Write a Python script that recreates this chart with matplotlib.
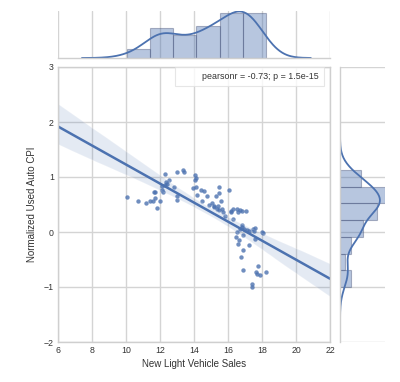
import numpy as np
import matplotlib
matplotlib.use("Agg")
import matplotlib.pyplot as plt
import seaborn as sns
from matplotlib.patches import Rectangle

# New light vehicle sales (millions, SAAR) vs normalized used auto CPI
sales = [10.06, 10.70, 11.17, 11.39, 11.56, 11.62, 11.72, 11.82, 11.68, 12.01,
         12.13, 12.20, 12.27, 12.30, 12.40, 12.50, 12.80, 12.99, 12.99, 13.00,
         13.38, 13.44, 14.04, 14.10, 14.08, 14.10, 14.20, 14.41, 14.60, 14.77,
         14.49, 15.07, 15.17, 15.27, 15.49, 15.49, 15.59, 15.35, 15.66, 15.41,
         15.72, 16.05, 16.17, 16.17, 16.27, 16.54, 16.70, 16.80, 17.03, 16.84,
         16.93, 17.09, 17.23, 17.48, 17.54, 17.58, 18.00, 18.06, 16.47, 16.66,
         16.89, 16.57, 17.25, 17.58, 16.89, 16.78, 17.75, 16.89, 17.62, 17.87,
         18.22, 17.44, 17.44,
         12.35, 12.10, 13.95, 14.90, 15.20, 15.45, 16.30, 16.60, 15.80, 16.50,
         16.70, 16.80, 17.70]
cpi = [0.63, 0.56, 0.52, 0.56, 0.56, 0.72, 0.72, 0.43, 0.62, 0.56,
       0.77, 0.73, 1.06, 0.86, 0.87, 0.94, 0.81, 0.65, 0.58, 1.09,
       1.13, 1.10, 1.03, 0.99, 0.94, 0.82, 0.68, 0.77, 0.75, 0.66,
       0.56, 0.52, 0.48, 0.65, 0.82, 0.71, 0.56, 0.42, 0.41, 0.47,
       0.37, 0.76, 0.39, 0.36, 0.24, 0.41, 0.40, 0.38, 0.38, 0.09,
       0.06, 0.03, 0.02, 0.06, 0.02, 0.08, 0.00, -0.02, -0.09, -0.14,
       -0.05, -0.21, -0.24, -0.13, -0.33, -0.45, -0.61, -0.69, -0.73, -0.78,
       -0.72, -0.95, -1.00,
       0.91, 0.84, 0.80, 0.50, 0.45, 0.40, 0.42, 0.37, 0.30, 0.00,
       0.05, 0.12, -0.76]

x_label = "New Light Vehicle Sales"
y_label = "Normalized Used Auto CPI"
stat_text = "pearsonr = -0.73; p = 1.5e-15"
x_ticks = [6, 8, 10, 12, 14, 16, 18, 20, 22]
y_ticks = [-2, -1, 0, 1, 2, 3]

x = np.array(sales)
y = np.array(cpi)

sns.set_style("whitegrid")
plt.rcParams['font.family'] = ['Liberation Sans', 'DejaVu Sans']
plt.rcParams['axes.edgecolor'] = '#cfcfcf'
plt.rcParams['grid.color'] = '#d4d4d4'
plt.rcParams['axes.linewidth'] = 1.0
plt.rcParams['grid.linewidth'] = 1.0

blue = "#4C72B0"
W, H = 400, 382
fig = plt.figure(figsize=(4, 3.82), dpi=100)

ax = fig.add_axes([58 / W, 1 - 342 / H, (330 - 58) / W, (342 - 67) / H])
axx = fig.add_axes([58 / W, 1 - 58 / H, (330 - 58) / W, (58 - 11) / H], sharex=ax)
axy = fig.add_axes([340 / W, 1 - 342 / H, (385 - 340) / W, (342 - 67) / H], sharey=ax)

ax.set_xlim(6, 22)
ax.set_ylim(-2, 3)

sns.regplot(x=x, y=y, ax=ax, truncate=False, seed=0, color=blue,
            scatter_kws=dict(s=10, alpha=0.8, linewidths=0),
            line_kws=dict(lw=1.8))
ax.set_xlim(6, 22)
ax.set_ylim(-2, 3)
ax.set_xticks(x_ticks)
ax.set_yticks(y_ticks)
ax.tick_params(labelsize=6.3, length=0, pad=3, colors='#333333')
ax.set_xlabel(x_label, fontsize=7, color='#333333', labelpad=3)
ax.set_ylabel(y_label, fontsize=7, color='#333333', labelpad=5)

handle = Rectangle((0, 0), 1, 1, fc='none', ec='none')
leg = ax.legend([handle], [stat_text], loc='upper right', fontsize=6.4,
                bbox_to_anchor=(324 / W, 1 - 67.5 / H),
                bbox_transform=fig.transFigure,
                frameon=True, fancybox=False, borderaxespad=0,
                handlelength=1.7, borderpad=0.55)
leg.get_frame().set_edgecolor('#e0e0e0')
leg.get_frame().set_linewidth(0.8)
for t in leg.get_texts():
    t.set_color('#333333')


def kde(data, grid):
    n = len(data)
    bw = data.std(ddof=1) * n ** (-1 / 5)
    z = (grid[:, None] - data[None, :]) / bw
    return np.exp(-0.5 * z ** 2).sum(axis=1) / (n * bw * np.sqrt(2 * np.pi))


# top marginal
bwx = x.std(ddof=1) * len(x) ** (-1 / 5)
gx = np.linspace(x.min() - 3 * bwx, x.max() + 3 * bwx, 200)
kx = kde(x, gx)
hx, ex, _ = axx.hist(x, bins=6, density=True, color=blue, alpha=0.4,
                     edgecolor=(0.25, 0.3, 0.45, 0.5), linewidth=0.8)
axx.plot(gx, kx, color=blue, lw=1.3)
axx.set_ylim(0, max(hx.max(), kx.max()) * 1.01)

# right marginal
bwy = y.std(ddof=1) * len(y) ** (-1 / 5)
gy = np.linspace(y.min() - 3 * bwy, y.max() + 3 * bwy, 200)
ky = kde(y, gy)
hy, ey, _ = axy.hist(y, bins=7, density=True, orientation='horizontal',
                     color=blue, alpha=0.4,
                     edgecolor=(0.25, 0.3, 0.45, 0.5), linewidth=0.8)
axy.plot(ky, gy, color=blue, lw=1.3)
axy.set_xlim(0, max(hy.max(), ky.max()) * 1.01)

for a in (axx, axy):
    a.tick_params(labelleft=False, labelbottom=False, length=0)
axx.grid(axis='y', visible=False)
axy.grid(axis='x', visible=False)
for s in ('top', 'right', 'left'):
    axx.spines[s].set_visible(False)
for s in ('top', 'right', 'bottom'):
    axy.spines[s].set_visible(False)

fig.savefig("out.png", dpi=100)
